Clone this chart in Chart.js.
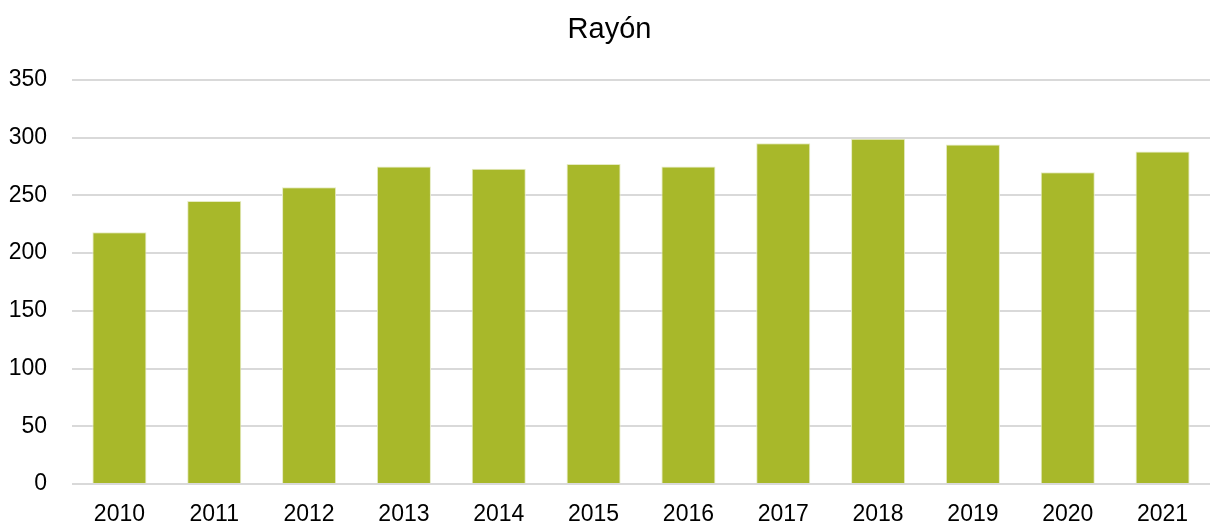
<!DOCTYPE html>
<html>
<head>
<meta charset="utf-8">
<script src="https://cdn.jsdelivr.net/npm/chart.js@4"></script>
<style>
  html, body { margin: 0; padding: 0; background: #fff; }
  #wrap { width: 1211px; height: 527px; }
</style>
</head>
<body>
<div id="wrap"><canvas id="chart"></canvas></div>
<script>
const years = ['2010', '2011', '2012', '2013', '2014', '2015', '2016', '2017', '2018', '2019', '2020', '2021'];
const values = [218, 245, 257, 275, 273, 277, 275, 295, 299, 294, 270, 288];
const chartTitle = 'Rayón';

const ctx = document.getElementById('chart').getContext('2d');
new Chart(ctx, {
  type: 'bar',
  data: {
    labels: years,
    datasets: [{
      data: values,
      backgroundColor: '#a8b82a',
      borderColor: '#e6ebc2',
      borderWidth: 1,
      categoryPercentage: 1,
      barPercentage: 0.57
    }]
  },
  options: {
    responsive: true,
    maintainAspectRatio: false,
    animation: false,
    layout: { padding: { left: 9, right: 1, top: 0, bottom: 0 } },
    plugins: {
      legend: { display: false },
      tooltip: { enabled: false },
      title: {
        display: true,
        text: chartTitle,
        color: '#000',
        font: { family: 'Liberation Sans', size: 29, weight: 'normal' },
        padding: { top: 13, bottom: 32 }
      }
    },
    scales: {
      x: {
        grid: { display: false, drawTicks: false },
        border: { display: false },
        afterFit: (scale) => { scale.height = 43; },
        ticks: {
          color: '#000',
          padding: 17,
          font: { family: 'Liberation Sans', size: 23 }
        }
      },
      y: {
        min: 0,
        max: 350,
        afterFit: (scale) => { scale.width = 63; },
        grid: { color: '#d9d9d9', lineWidth: 2, drawTicks: false },
        border: { display: false },
        ticks: {
          stepSize: 50,
          color: '#000',
          padding: 25,
          font: { family: 'Liberation Sans', size: 23 }
        }
      }
    }
  }
});
</script>
</body>
</html>
